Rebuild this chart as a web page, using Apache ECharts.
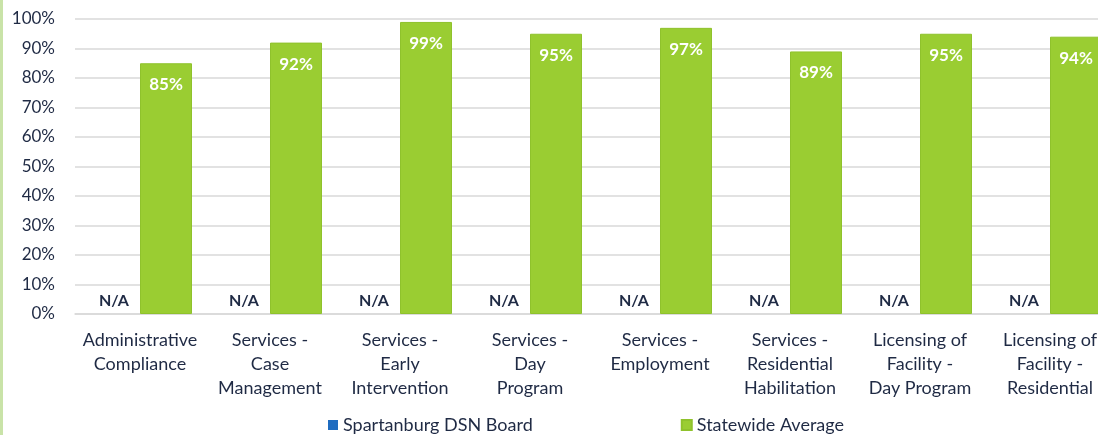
<!DOCTYPE html>
<html>
<head>
<meta charset="utf-8">
<script src="https://cdn.jsdelivr.net/npm/echarts@6/dist/echarts.min.js"></script>
<style>
  html, body { margin: 0; padding: 0; background: #fff; overflow: hidden; }
  /* the chart is a little wider than the window so the last group runs off the edge */
  #chart { width: 1115px; height: 435px; }
</style>
</head>
<body>
<div id="chart"></div>
<script>
// Review categories (line breaks as shown under the axis)
const categories = [
  'Administrative\nCompliance',
  'Services -\nCase\nManagement',
  'Services -\nEarly\nIntervention',
  'Services -\nDay\nProgram',
  'Services -\nEmployment',
  'Services -\nResidential\nHabilitation',
  'Licensing of\nFacility -\nDay Program',
  'Licensing of\nFacility -\nResidential'
];
// Board scores are not available for any category
const boardValues = [0, 0, 0, 0, 0, 0, 0, 0];
const boardLabel = 'N/A';
// Statewide average compliance (%)
const statewideValues = [85, 92, 99, 95, 97, 89, 95, 94];
const seriesNames = ['Spartanburg DSN Board', 'Statewide Average'];

const FONT = 'Lato, "Liberation Sans", sans-serif';
const TEXT = '#1f2a44';
const chart = echarts.init(document.getElementById('chart'));
chart.setOption({
  animation: false,
  textStyle: { fontFamily: FONT },
  graphic: [{
    type: 'rect', left: 0, top: 0,
    shape: { width: 3, height: 435 },
    style: { fill: '#c9e3a8' }
  }],
  grid: { left: 75, right: 0, top: 19, height: 295, containLabel: false },
  legend: {
    top: 411, left: 323,
    itemWidth: 10, itemHeight: 10, itemGap: 148,
    icon: 'rect',
    textStyle: { fontSize: 18, color: TEXT, fontFamily: FONT },
    data: seriesNames
  },
  xAxis: {
    type: 'category',
    data: categories,
    axisLine: { show: true, lineStyle: { color: '#d9d9d9', width: 1.5 } },
    axisTick: { show: false },
    axisLabel: {
      interval: 0, fontSize: 18, color: TEXT, lineHeight: 24,
      margin: 14, fontFamily: FONT
    }
  },
  yAxis: {
    type: 'value', min: 0, max: 100, interval: 10,
    axisLine: { show: false },
    axisTick: { show: false },
    splitLine: { lineStyle: { color: '#d9d9d9', width: 1.5 } },
    axisLabel: {
      formatter: '{value}%', fontSize: 17, color: TEXT,
      margin: 20, fontFamily: FONT
    }
  },
  series: [
    {
      name: seriesNames[0], type: 'bar',
      data: boardValues,
      itemStyle: { color: '#1f6cc0' },
      barGap: '0%', barCategoryGap: '20%',
      label: {
        show: true, position: 'top', distance: 5,
        formatter: boardLabel,
        fontSize: 16, fontWeight: 'bold', color: TEXT, fontFamily: FONT
      }
    },
    {
      name: seriesNames[1], type: 'bar',
      data: statewideValues,
      itemStyle: { color: '#9acd32', borderColor: '#8fc22c', borderWidth: 1 },
      barGap: '0%', barCategoryGap: '20%',
      label: {
        show: true, position: 'insideTop', distance: 13,
        formatter: '{c}%',
        fontSize: 17, fontWeight: 'bold', color: '#ffffff', fontFamily: FONT
      }
    }
  ]
});
</script>
</body>
</html>
